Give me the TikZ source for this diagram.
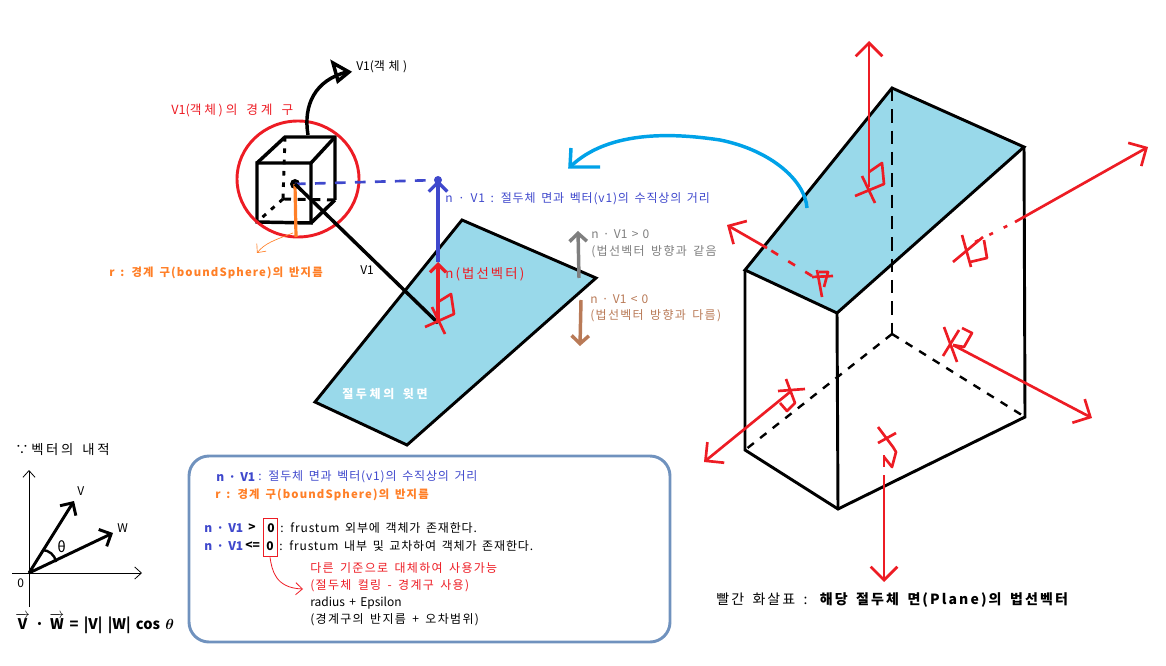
\documentclass[tikz,border=0pt]{standalone}
\usepackage{fontspec}
\setmainfont{Noto Sans CJK KR}[WordSpace=1.6]
\usepackage{amsmath}
\usepackage{xcolor}
\usetikzlibrary{arrows.meta,positioning}
\definecolor{sky}{HTML}{99D9EA}
\definecolor{rd}{HTML}{ED1C24}
\definecolor{org}{HTML}{FF7F27}
\definecolor{ind}{HTML}{3F48CC}
\definecolor{cyn}{HTML}{00A2E8}
\definecolor{gry}{HTML}{7F7F7F}
\definecolor{brn}{HTML}{B97A57}
\definecolor{frm}{HTML}{7092BE}
\newcommand{\tight}[1]{{\addfontfeature{LetterSpace=0}#1}}
\tikzset{
  px/.style={x=0.75pt,y=-0.75pt},
  lbl0/.style={anchor=west, inner sep=0pt, font=\fontsize{9}{10}\selectfont},
  lbln/.style={anchor=west, inner sep=0pt, font=\fontsize{9}{10}\selectfont\addfontfeature{LetterSpace=7}},
  lbl/.style={anchor=west, inner sep=0pt, font=\fontsize{9}{10}\selectfont\addfontfeature{LetterSpace=11}},
  lblw/.style={anchor=west, inner sep=0pt, font=\fontsize{10}{12}\selectfont\addfontfeature{LetterSpace=16}},
  lblb/.style={anchor=west, inner sep=0pt, font=\fontsize{8.5}{10}\selectfont\bfseries\addfontfeature{LetterSpace=10}},
  ed/.style={line width=2.2pt, black},
  edc/.style={line width=2.6pt, black},
  eddash/.style={line width=2.2pt, black, dash pattern=on 10pt off 6pt},
  edlow/.style={line width=1.8pt, black, dash pattern=on 6pt off 6pt},
  eddot/.style={line width=2.2pt, black, dash pattern=on 3.5pt off 5pt},
  nrm/.style={line width=2pt, rd, -{Straight Barb[length=10pt,width=20pt]}},
  nrmdash/.style={line width=2pt, rd, dash pattern=on 6pt off 9pt},
  mrk/.style={line width=2pt, rd, line join=round},
  vec/.style={line width=2.2pt, -{Straight Barb[length=7pt,width=14pt]}},
  axs/.style={line width=0.6pt, -{Straight Barb[length=5pt,width=9pt]}}
}
\begin{document}
\begin{tikzpicture}[px]
\useasboundingbox (0,0) rectangle (1166,666);
% upper face, left drawing
\coordinate (P1) at (462,220);
\coordinate (P2) at (596,278);
\coordinate (P3) at (407,445);
\coordinate (P4) at (315,402);
\fill[sky] (P1) -- (P2) -- (P3) -- (P4) -- cycle;
\draw[ed] (P1) -- (P2) -- (P3) -- (P4) -- cycle;
% cube
\coordinate (A) at (257,163);
\coordinate (B) at (311,163);
\coordinate (C) at (311,223);
\coordinate (D) at (257,222);
\coordinate (E) at (285,137);
\coordinate (F) at (335,137);
\coordinate (G) at (335,200);
\coordinate (H) at (283,199);
\coordinate (O) at (295,184);
\coordinate (R) at (296,237);
\draw[edc] (A) -- (B) -- (C) -- (D) -- cycle;
\draw[edc] (A) -- (E) -- (F) -- (G);
\draw[edc] (B) -- (F);
\draw[eddot] (E) -- (H);
\draw[eddot] (H) -- (D);
\draw[eddash,dash pattern=on 6pt off 5pt] (H) -- (G);
\draw[edc] (C) -- (G);
\draw[rd,line width=2.2pt] (298,179) ellipse (61 and 58);
% object arrow
\coordinate (T1) at (308,135);
\coordinate (T2) at (347,72);
\draw[edc] (T1) .. controls (303,105) and (315,80) .. (T2);
\draw[edc,line join=miter] (333,63) -- (349,72) -- (338,81) -- cycle;
\node[lblw,font=\fontsize{9}{10}\selectfont\addfontfeature{LetterSpace=30}] (vobj) at (356,67) {\tight{V1(}객체)};
\node[lblw,text=rd,font=\fontsize{9.5}{11}\selectfont\addfontfeature{LetterSpace=22}] (vsph) at (171,111) {\tight{V1(}객체)의 경계 구};
% radius
\fill (O) circle (5);
\draw[org,line width=2.4pt] (O) -- (R);
\coordinate (Q) at (257,253);
\draw[org,line width=0.5pt,-{Straight Barb[length=5pt,width=9pt]}] (293,233) .. controls (275,240) and (265,243) .. (Q);
\node[lblb,text=org] (rad) at (109,273) {r : 경계 구(boundSphere)의 반지름};
% V1 and n
\coordinate (S) at (438,323);
\coordinate (N) at (438,180);
\coordinate (M) at (438,262);
\draw[ind,line width=2pt,dash pattern=on 8pt off 7pt] (O) -- (N);
\draw[ind,line width=2.4pt,-{Straight Barb[length=7pt,width=14pt]}] (M) -- (N);
\fill[ind] (N) circle (4);
\draw[edc] (O) -- (S);
\node[lbl0] (vone) at (360,270) {V1};
\draw[rd,line width=2.4pt,-{Straight Barb[length=6pt,width=12pt]}] (S) -- (M);
\draw[mrk] (438,302) -- (451,294) -- (454,314) -- (425,327);
\draw[mrk] (432,307) -- (445,334);
\node[lblw,text=rd] (nvec) at (445,274) {n(법선벡터)};
\node[lbln,text=ind] (ndist) at (445,199) {n · V1 : 절두체 면과 벡터(v1)의 수직상의 거리};
\coordinate (U1) at (579,278);
\coordinate (U2) at (578,231);
\coordinate (W1) at (581,300);
\coordinate (W2) at (580,346);
\draw[gry,line width=2.6pt,-{Straight Barb[length=6pt,width=13pt]}] (U1) -- (U2);
\draw[brn,line width=2.6pt,-{Straight Barb[length=6pt,width=13pt]}] (W1) -- (W2);
\node[lbl0,text=gry] (gt) at (591,234) {n · V1 \textgreater{} 0};
\node[lbl,text=gry] (gtb) at (591,252) {(법선벡터 방향과 같음};
\node[lbl0,text=brn] (lt) at (590,299) {n · V1 \textless{} 0};
\node[lbl,text=brn] (ltb) at (590,316) {(법선벡터 방향과 다름)};
\node[lblb,text=white,font=\fontsize{9}{10}\selectfont\bfseries\addfontfeature{LetterSpace=22}] (top) at (342,394) {절두체의 윗면};
% dot product
\node[lblw,font=\fontsize{10}{12}\selectfont\addfontfeature{LetterSpace=20}] (dot) at (15,450) {∵벡터의 내적};
\coordinate (Z) at (29,573);
\coordinate (YA) at (29,607);
\coordinate (YB) at (29,470);
\coordinate (XA) at (12,573);
\coordinate (XB) at (142,573);
\coordinate (Vh) at (74,501);
\coordinate (Wh) at (113,533);
\draw[axs] (YA) -- (YB);
\draw[axs] (XA) -- (XB);
\draw[vec] (Z) -- (Vh);
\draw[vec] (Z) -- (Wh);
\draw[line width=1.8pt] (42,550) .. controls (49,550) and (55,555) .. (56,562);
\node[lbl0,font=\fontsize{11}{12}\selectfont] (th) at (57,547) {θ};
\node[lbl0] (vl) at (77,491) {V};
\node[lbl0] (wl) at (117,528) {W};
\node[lbl0] (zr) at (17,583) {0};
\node[lbl0,font=\fontsize{11}{12}\selectfont\bfseries] (frml) at (15,623) {$\overrightarrow{\mathbf{V}}$ · $\overrightarrow{\mathbf{W}}$ = |V| |W| cos {\boldmath$\theta$}};
% box
\draw[frm,line width=2.2pt,rounded corners=15pt] (189,456) rectangle (670,642);
\node[lbl0,text=ind,font=\fontsize{9}{10}\selectfont\bfseries] (b1a) at (216,477) {n · V1};
\node[lbln,text=ind] (b1b) at (258,477) {: 절두체 면과 벡터(v1)의 수직상의 거리};
\node[lblb,text=org] (b2) at (215,495) {r : 경계 구(boundSphere)의 반지름};
\node[lbl0,text=ind,font=\fontsize{9}{10}\selectfont\bfseries] (b3a) at (204,528) {n · V1};
\node[lbl0,font=\fontsize{9}{10}\selectfont\bfseries] (b3b) at (248,528) {>};
\node[lbl0,font=\fontsize{9}{10}\selectfont\bfseries] (b3c) at (267,528) {0};
\node[lbln] (b3d) at (280,528) {: frustum 외부에 객체가 존재한다.};
\node[lbl0,text=ind,font=\fontsize{9}{10}\selectfont\bfseries] (b4a) at (204,546) {n · V1};
\node[lbl0,font=\fontsize{9}{10}\selectfont\bfseries] (b4b) at (245,546) {<=};
\node[lbl0,font=\fontsize{9}{10}\selectfont\bfseries] (b4c) at (266,546) {0};
\node[lbln] (b4d) at (279,546) {: frustum 내부 및 교차하여 객체가 존재한다.};
\node[draw=rd,line width=0.7pt,minimum width=10.5pt,minimum height=29pt,inner sep=0pt] (zbox) at (270,537.5) {};
\coordinate (Y) at (303,589);
\draw[rd,line width=0.6pt,-{Straight Barb[length=5pt,width=9pt]}] (zbox.south) .. controls (272,570) and (275,588) .. (Y);
\node[lbl,text=rd] (c1) at (310,568) {다른 기준으로 대체하여 사용가능};
\node[lbl,text=rd] (c2) at (310,586) {(절두체 컬링 - 경계구 사용)};
\node[lbl0] (c3) at (310,603) {radius + Epsilon};
\node[lbl] (c4) at (310,620) {(경계구의 반지름 + 오차범위)};
% frustum
\coordinate (a) at (892,88);
\coordinate (b) at (1024,147);
\coordinate (c) at (837,313);
\coordinate (d) at (745,270);
\coordinate (e) at (745,450);
\coordinate (f) at (838,509);
\coordinate (g) at (1025,417);
\coordinate (h) at (892,334);
\fill[sky] (a) -- (b) -- (c) -- (d) -- cycle;
\draw[ed] (a) -- (b) -- (c) -- (d) -- cycle;
\draw[ed] (d) -- (e) -- (f) -- (g) -- (b);
\draw[ed] (c) -- (f);
\draw[eddash] (a) -- (h);
\draw[edlow] (h) -- (e);
\draw[edlow] (h) -- (g);
% cyan arrow
\coordinate (k1) at (807,208);
\coordinate (k2) at (570,167);
\draw[cyn,line width=2.6pt] (k1) .. controls (805,180) and (770,150) .. (720,140) .. controls (680,134) and (610,128) .. (k2);
\draw[cyn,line width=2.6pt] (571,148) -- (k2) -- (600,167);
% red normals
\coordinate (n1) at (869,187);
\coordinate (n2) at (869,41);
\draw[nrm] (n1) -- (n2);
\draw[mrk] (869,172) -- (882,163) -- (884,184) -- (855,196);
\draw[mrk] (862,176) -- (875,203);
\coordinate (n3) at (767,248);
\coordinate (n4) at (727,225);
\draw[nrm] (n3) -- (n4);
\draw[nrmdash] (812,276) -- (767,248);
\draw[mrk] (817,270) -- (822,297);
\draw[mrk] (812,277) -- (833,276);
\draw[mrk] (819,272) -- (828,272) -- (824,287);
\coordinate (n5) at (1015,222);
\coordinate (n6) at (1148,147);
\draw[nrm] (n5) -- (n6);
\draw[nrmdash,dash pattern=on 3pt off 9pt] (975,242) -- (n5);
\draw[mrk] (953,262) -- (983,237);
\draw[mrk] (962,235) -- (971,267);
\draw[mrk] (984,240) -- (987,258) -- (970,262);
\coordinate (n7) at (953,345);
\coordinate (n8) at (1092,418);
\draw[nrm] (n7) -- (n8);
\draw[mrk] (944,327) -- (957,362);
\draw[mrk] (943,356) -- (959,330);
\draw[mrk] (962,328) -- (972,333) -- (964,347) -- (953,345);
\coordinate (n9) at (790,392);
\coordinate (n10) at (704,462);
\draw[nrm] (n9) -- (n10);
\draw[mrk] (778,391) -- (805,389);
\draw[mrk] (786,379) -- (795,403) -- (787,411) -- (780,403);
\coordinate (n11) at (884,475);
\coordinate (n12) at (884,582);
\draw[nrm] (n11) -- (n12);
\draw[mrk] (878,427) -- (893,447) -- (896,452) -- (892,467) -- (884,457);
\draw[mrk] (878,443) -- (896,433);
\draw[mrk] (884,455) -- (884,467);
\node[lbl0,font=\fontsize{10.5}{12}\selectfont\addfontfeature{LetterSpace=15}] (cap) at (716,600) {빨간 화살표 : \textbf{해당 절두체 면(Plane)의 법선벡터}};
\end{tikzpicture}
\end{document}
